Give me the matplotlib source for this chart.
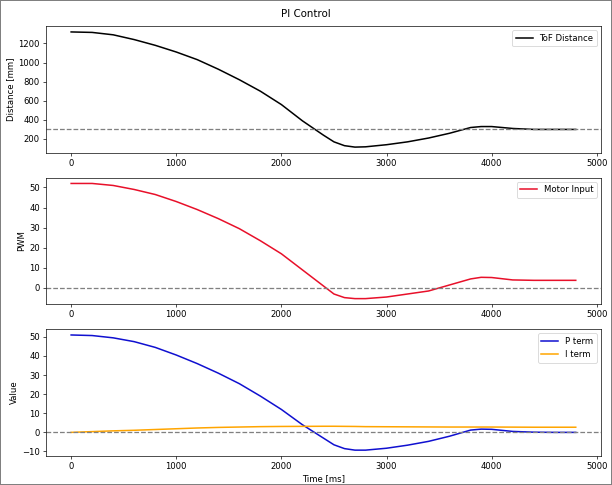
import matplotlib
matplotlib.use('Agg')
import matplotlib.pyplot as plt
from matplotlib.ticker import MultipleLocator

# time axis [ms]
time_ms = [0, 200, 400, 600, 800, 1000, 1200, 1400, 1600, 1800, 2000, 2200, 2400, 2500,
           2600, 2700, 2800, 3000, 3200, 3400, 3600, 3800, 3900, 4000, 4200, 4400, 4600, 4800]

distance = [1320, 1315, 1290, 1240, 1180, 1110, 1030, 930, 820, 700, 560, 390, 240, 170,
            130, 115, 118, 140, 170, 210, 260, 320, 330, 330, 310, 300, 300, 300]

motor = [52, 52, 51, 49, 46.5, 43, 39, 34.5, 29.5, 23.5, 17, 9, 1, -3,
         -4.8, -5.3, -5.3, -4.5, -3, -1.5, 1.5, 4.5, 5.3, 5.2, 4.0, 3.8, 3.8, 3.8]

p_term = [51, 50.7, 49.5, 47.5, 44.5, 40.5, 36, 31, 25.5, 19, 12, 4, -3, -6.5,
          -8.5, -9.3, -9.3, -8.3, -6.7, -4.7, -2, 1.2, 1.7, 1.6, 0.5, 0.1, 0, 0]

i_term = [0, 0.4, 0.8, 1.1, 1.5, 1.9, 2.3, 2.6, 2.8, 3.0, 3.1, 3.15, 3.2, 3.2,
          3.15, 3.1, 3.0, 2.95, 2.9, 2.85, 2.8, 2.8, 2.8, 2.8, 2.75, 2.7, 2.7, 2.7]

target_distance = 300

# original figure was 10x8-ish, shown at reduced scale
fig, axs = plt.subplots(3, 1, figsize=(10, 7.925), dpi=61.2)
fig.patch.set_edgecolor('gray')
fig.patch.set_linewidth(2)
fig.suptitle('PI Control', fontsize=12, y=0.982)

axs[0].plot(time_ms, distance, color='black', lw=1.8, label='ToF Distance')
axs[0].axhline(target_distance, color='gray', linestyle='--')
axs[0].set_ylabel('Distance [mm]')
axs[0].yaxis.set_major_locator(MultipleLocator(200))
axs[0].legend(loc='upper right')

axs[1].plot(time_ms, motor, color='#e8102a', lw=1.8, label='Motor Input')
axs[1].axhline(0, color='gray', linestyle='--')
axs[1].set_ylabel('PWM')
axs[1].yaxis.set_major_locator(MultipleLocator(10))
axs[1].legend(loc='upper right')

axs[2].plot(time_ms, p_term, color='#1010d0', lw=1.8, label='P term')
axs[2].plot(time_ms, i_term, color='orange', lw=1.8, label='I term')
axs[2].axhline(0, color='gray', linestyle='--')
axs[2].set_ylabel('Value')
axs[2].set_xlabel('Time [ms]')
axs[2].yaxis.set_major_locator(MultipleLocator(10))
axs[2].legend(loc='upper right')

plt.subplots_adjust(left=0.075, right=0.982, top=0.946, bottom=0.06, hspace=0.196)
plt.savefig('out.png', dpi=61.2, edgecolor=fig.get_edgecolor())
